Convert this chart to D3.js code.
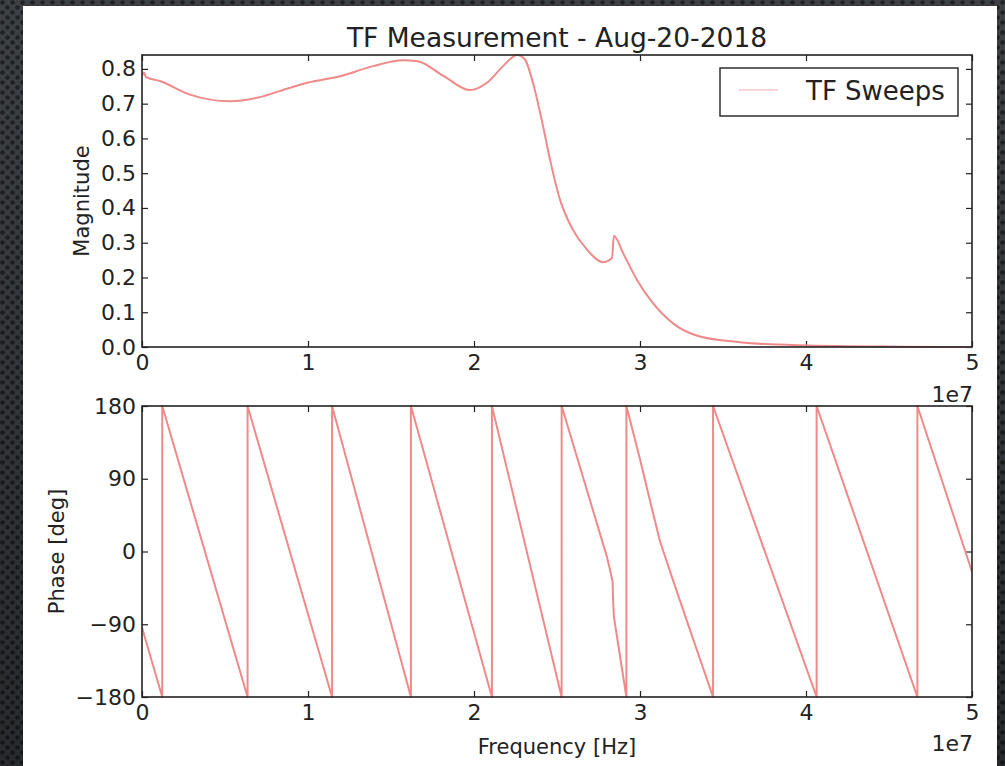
<!DOCTYPE html>
<html>
<head>
<meta charset="utf-8">
<script src="https://cdn.jsdelivr.net/npm/d3@7"></script>
<style>
  html, body { margin: 0; padding: 0; background: #2e3135; }
  svg { display: block; }
  text { font-family: "DejaVu Sans", sans-serif; fill: #222; }
</style>
</head>
<body>
<svg id="chart" width="1005" height="766"></svg>
<script>
// ---------------- data ----------------
const chartTitle = "TF Measurement - Aug-20-2018";
const legendLabel = "TF Sweeps";

// Magnitude sweep (frequency in Hz)
const magFreq = [0, 0.012e7, 0.024e7, 0.108e7, 0.289e7, 0.53e7, 0.693e7, 0.892e7, 0.994e7,
  1.193e7, 1.392e7, 1.572e7, 1.66e7, 1.813e7, 1.976e7, 2.078e7, 2.175e7, 2.259e7, 2.307e7,
  2.355e7, 2.416e7, 2.458e7, 2.518e7, 2.596e7, 2.681e7, 2.777e7, 2.831e7, 2.843e7, 2.898e7,
  2.982e7, 3.078e7, 3.199e7, 3.361e7, 3.602e7, 3.964e7, 4.566e7, 5.0e7];
const magValues = [0.780, 0.790, 0.776, 0.765, 0.726, 0.707, 0.717, 0.746, 0.760,
  0.779, 0.808, 0.825, 0.822, 0.781, 0.739, 0.760, 0.808, 0.840, 0.827,
  0.760, 0.635, 0.539, 0.424, 0.337, 0.280, 0.244, 0.256, 0.320, 0.270,
  0.193, 0.126, 0.068, 0.030, 0.014, 0.005, 0.001, 0.000];

// Phase sweep (wrapped, degrees)
const phaseFreq = [0, 0.122e7, 0.122e7, 0.636e7, 0.636e7, 1.145e7, 1.145e7, 1.62e7, 1.62e7,
  2.108e7, 2.108e7, 2.528e7, 2.528e7, 2.80e7, 2.822e7, 2.835e7, 2.838e7, 2.843e7, 2.918e7,
  2.918e7, 3.0e7, 3.072e7, 3.12e7, 3.193e7, 3.301e7, 3.44e7,
  3.44e7, 4.064e7, 4.064e7, 4.671e7, 4.671e7, 5.0e7];
const phaseValues = [-94, -180, 180, -180, 180, -180, 180, -180, 180,
  -180, 180, -180, 180, -6, -25, -37, -60, -81, -180,
  180, 114, 53, 13, -32, -97, -180,
  180, -180, 180, -180, 180, -25];

const xTickValues = [0, 1e7, 2e7, 3e7, 4e7, 5e7];
const xTickLabels = ["0", "1", "2", "3", "4", "5"];
const xOffsetLabel = "1e7";
const magTickValues = [0, 0.1, 0.2, 0.3, 0.4, 0.5, 0.6, 0.7, 0.8];
const magTickLabels = ["0.0", "0.1", "0.2", "0.3", "0.4", "0.5", "0.6", "0.7", "0.8"];
const phaseTickValues = [-180, -90, 0, 90, 180];
const phaseTickLabels = ["\u2212180", "\u221290", "0", "90", "180"];

// ---------------- layout ----------------
const svg = d3.select("#chart");
const W = 1005, H = 766;
const lineColor = "#f08a8a";
const legendLineColor = "#fbd3da";

// textured dark background
const defs = svg.append("defs");
const pat = defs.append("pattern").attr("id", "dots").attr("width", 10).attr("height", 10)
  .attr("patternUnits", "userSpaceOnUse");
pat.append("rect").attr("width", 10).attr("height", 10).attr("fill", "#3d4045");
pat.append("circle").attr("cx", 2.5).attr("cy", 2.5).attr("r", 2.3).attr("fill", "#1f2124");
pat.append("circle").attr("cx", 7.5).attr("cy", 7.5).attr("r", 2.3).attr("fill", "#1f2124");
svg.append("rect").attr("width", W).attr("height", H).attr("fill", "url(#dots)");
const shade = defs.append("linearGradient").attr("id", "shade").attr("x1", 0).attr("y1", 0).attr("x2", 0).attr("y2", 1);
shade.append("stop").attr("offset", 0).attr("stop-color", "#000").attr("stop-opacity", 0);
shade.append("stop").attr("offset", 1).attr("stop-color", "#000").attr("stop-opacity", 0.35);
svg.append("rect").attr("width", W).attr("height", H).attr("fill", "url(#shade)");

// white figure panel
svg.append("rect").attr("x", 23).attr("y", 6).attr("width", 974).attr("height", H - 6).attr("fill", "#fff");

const plotL = 142, plotR = 972;
const top1 = 55, bot1 = 347;
const top2 = 406, bot2 = 697;

const x1 = d3.scaleLinear().domain([0, 5e7]).range([plotL, plotR]);
const yMag = d3.scaleLinear().domain([0, d3.max(magValues)]).range([bot1, top1]);
const yPh = d3.scaleLinear().domain([-180, 180]).range([bot2, top2]);

const tickFont = "22px";
const tickLen = 6;

function styleAxis(g) {
  g.select(".domain").remove();
  g.selectAll(".tick line").attr("stroke", "#222").attr("stroke-width", 1.2);
  g.selectAll(".tick text").style("font-size", tickFont).style("font-family", "DejaVu Sans").attr("fill", "#222");
}

function drawPanel(yScale, yTicks, yLabels, topY, botY, clipId) {
  const fmtY = (d) => yLabels[yTicks.indexOf(d)];
  svg.append("g").attr("transform", `translate(0,${botY})`)
    .call(d3.axisBottom(x1).tickValues(xTickValues).tickSize(-tickLen).tickPadding(7)
      .tickFormat((d, i) => xTickLabels[i]))
    .call(styleAxis);
  svg.append("g").attr("transform", `translate(0,${topY})`)
    .call(d3.axisTop(x1).tickValues(xTickValues).tickSize(-tickLen).tickFormat(""))
    .call(styleAxis);
  svg.append("g").attr("transform", `translate(${plotL},0)`)
    .call(d3.axisLeft(yScale).tickValues(yTicks).tickSize(-tickLen).tickPadding(6).tickFormat(fmtY))
    .call(styleAxis);
  svg.append("g").attr("transform", `translate(${plotR},0)`)
    .call(d3.axisRight(yScale).tickValues(yTicks).tickSize(-tickLen).tickFormat(""))
    .call(styleAxis);
  defs.append("clipPath").attr("id", clipId).append("rect")
    .attr("x", plotL).attr("y", topY - 1).attr("width", plotR - plotL).attr("height", botY - topY + 2);
}

drawPanel(yMag, magTickValues, magTickLabels, top1, bot1, "clip1");
drawPanel(yPh, phaseTickValues, phaseTickLabels, top2, bot2, "clip2");

// magnitude line
const magData = magFreq.map((f, i) => [f, magValues[i]]);
svg.append("path").datum(magData)
  .attr("clip-path", "url(#clip1)")
  .attr("fill", "none").attr("stroke", lineColor).attr("stroke-width", 2)
  .attr("d", d3.line().x(d => x1(d[0])).y(d => yMag(d[1])).curve(d3.curveMonotoneX));

// phase line
const phData = phaseFreq.map((f, i) => [f, phaseValues[i]]);
svg.append("path").datum(phData)
  .attr("clip-path", "url(#clip2)")
  .attr("fill", "none").attr("stroke", lineColor).attr("stroke-width", 2)
  .attr("stroke-linejoin", "round")
  .attr("d", d3.line().x(d => x1(d[0])).y(d => yPh(d[1])));

// frames
[[top1, bot1], [top2, bot2]].forEach(([t, b]) => {
  svg.append("rect").attr("x", plotL).attr("y", t).attr("width", plotR - plotL).attr("height", b - t)
    .attr("fill", "none").attr("stroke", "#222").attr("stroke-width", 1.6);
});

// offset labels
svg.append("text").attr("x", plotR + 1).attr("y", 402).attr("text-anchor", "end")
  .style("font-size", tickFont).text(xOffsetLabel);
svg.append("text").attr("x", plotR + 1).attr("y", 751).attr("text-anchor", "end")
  .style("font-size", tickFont).text(xOffsetLabel);

// title
svg.append("text").attr("x", (plotL + plotR) / 2).attr("y", 47).attr("text-anchor", "middle")
  .style("font-size", "26.5px").text(chartTitle);

// axis labels
svg.append("text").attr("transform", `translate(89,${(top1 + bot1) / 2}) rotate(-90)`)
  .attr("text-anchor", "middle").style("font-size", "21px").text("Magnitude");
svg.append("text").attr("transform", `translate(64,${(top2 + bot2) / 2}) rotate(-90)`)
  .attr("text-anchor", "middle").style("font-size", "21px").text("Phase [deg]");
svg.append("text").attr("x", (plotL + plotR) / 2).attr("y", 754).attr("text-anchor", "middle")
  .style("font-size", "21px").text("Frequency [Hz]");

// legend
const lg = svg.append("g");
lg.append("rect").attr("x", 720).attr("y", 68).attr("width", 238).attr("height", 48)
  .attr("fill", "#fff").attr("stroke", "#222").attr("stroke-width", 1.4);
lg.append("line").attr("x1", 739).attr("x2", 778).attr("y1", 90).attr("y2", 90)
  .attr("stroke", legendLineColor).attr("stroke-width", 2);
lg.append("text").attr("x", 806).attr("y", 100).style("font-size", "26px").text(legendLabel);
</script>
</body>
</html>
